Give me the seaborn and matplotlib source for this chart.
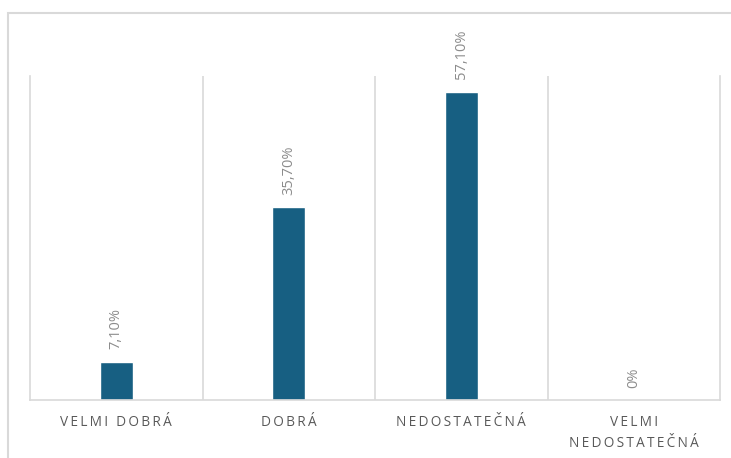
import matplotlib
matplotlib.use("Agg")
import matplotlib.pyplot as plt
import seaborn as sns
import pandas as pd
from matplotlib.patches import Rectangle

categories = ["VELMI DOBRÁ", "DOBRÁ", "NEDOSTATEČNÁ", "VELMI\nNEDOSTATEČNÁ"]
values = [7.1, 35.7, 57.1, 0.0]
labels = ["7,10%", "35,70%", "57,10%", "0%"]

sns.set_theme(style="white")
plt.rcParams['font.family'] = ['Open Sans', 'DejaVu Sans']

BAR = '#175F82'
GRID = '#D9D9D9'


def spaced(s):
    # letter spacing like in the office chart
    return "\n".join("\u2009".join(line) for line in s.split("\n"))


df = pd.DataFrame({'kat': categories, 'val': values})

fig = plt.figure(figsize=(7.31, 4.58), dpi=100)
ax = fig.add_axes([30 / 731, 58 / 458, 690 / 731, 324 / 458])

sns.barplot(data=df, x='kat', y='val', color=BAR, width=0.19, ax=ax, saturation=1)

ax.set_ylim(0, 60)
ax.set_xlim(-0.5, len(categories) - 0.5)
ax.set_yticks([])
ax.set_xlabel('')
ax.set_ylabel('')

# vertical separators between categories
ax.set_xticks([i + 0.5 for i in range(len(categories) - 1)], minor=True)
ax.grid(axis='x', which='minor', color=GRID, linewidth=1.2)
ax.tick_params(axis='x', which='both', length=0)
ax.set_xticks(range(len(categories)))
ax.set_xticklabels([spaced(c) for c in categories], color='#595959', fontsize=9.8,
                   linespacing=1.55)
ax.tick_params(axis='x', pad=11)

ax.spines['top'].set_visible(False)
for sp in ['left', 'right', 'bottom']:
    ax.spines[sp].set_color(GRID)
    ax.spines[sp].set_linewidth(1.2)

for i, (v, lab) in enumerate(zip(values, labels)):
    ax.annotate(lab, (i, v), xytext=(0, 9), textcoords='offset points',
                rotation=90, ha='center', va='bottom', fontsize=10.5, color='#8C8C8C')

# outer chart border
fig.patches.append(Rectangle((8 / 731, -0.2), 1.2, 1.2 - 13 / 458,
                             transform=fig.transFigure, fill=False,
                             edgecolor=GRID, linewidth=1.5, zorder=0))

fig.savefig('out.png', dpi=100)
